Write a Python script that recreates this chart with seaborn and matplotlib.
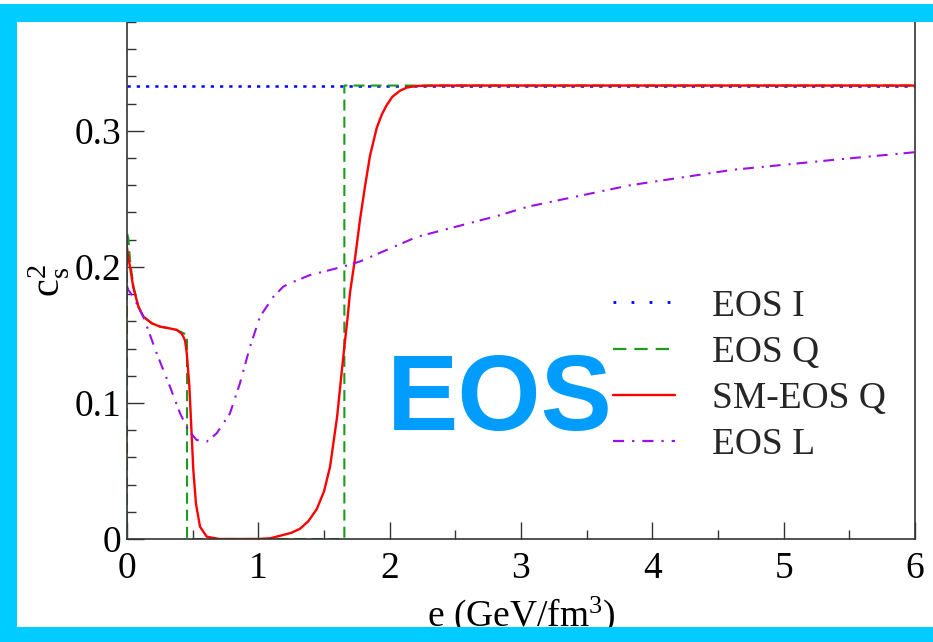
import matplotlib
matplotlib.use("Agg")
import matplotlib.pyplot as plt
import seaborn as sns
from matplotlib.lines import Line2D
from matplotlib.patches import Rectangle
from matplotlib.ticker import MultipleLocator, FuncFormatter

# ---- squared speed of sound c_s^2 versus energy density e (GeV/fm^3) ----
eos_i_e = [0.0, 6.0]
eos_i_cs2 = [0.3333, 0.3333]

eos_q_e = [0.0, 0.0, 0.01, 0.023, 0.048, 0.086, 0.124, 0.188, 0.251, 0.315,
           0.378, 0.457, 0.457, 1.655, 1.655, 6.0]
eos_q_cs2 = [0.0, 0.225, 0.221, 0.205, 0.186, 0.171, 0.1635, 0.1586, 0.1561, 0.155,
             0.1537, 0.150, 0.0, 0.0, 0.3333, 0.3333]

sm_eos_q_e = [0.0, 0.01, 0.023, 0.048, 0.086, 0.124, 0.188, 0.251, 0.315, 0.378,
              0.416, 0.442, 0.455, 0.475, 0.487, 0.505, 0.525, 0.556, 0.607, 0.70,
              1.00, 1.09, 1.19, 1.25, 1.317, 1.38, 1.445, 1.50, 1.546, 1.60,
              1.635, 1.657, 1.68, 1.698, 1.736, 1.774, 1.812, 1.85, 1.901, 1.94,
              1.978, 2.02, 2.079, 2.13, 2.206, 2.35, 6.0]
sm_eos_q_cs2 = [0.214, 0.207, 0.200, 0.185, 0.171, 0.1635, 0.1586, 0.1561, 0.155, 0.1537,
                0.151, 0.146, 0.1365, 0.112, 0.0875, 0.0507, 0.026, 0.009, 0.0017, 0.0,
                0.0, 0.0005, 0.003, 0.0045, 0.0075, 0.013, 0.022, 0.035, 0.053, 0.090,
                0.123, 0.143, 0.163, 0.181, 0.206, 0.2346, 0.259, 0.2816, 0.302, 0.312,
                0.319, 0.325, 0.3295, 0.3318, 0.333, 0.3333, 0.3333]

eos_l_e = [0.0, 0.01, 0.048, 0.124, 0.226, 0.327, 0.404, 0.467, 0.53, 0.607,
           0.683, 0.784, 0.86, 0.937, 1.013, 1.114, 1.19, 1.241, 1.393, 1.647,
           1.774, 2.206, 2.84, 3.054, 3.83, 4.607, 5.384, 6.0]
eos_l_cs2 = [0.186, 0.183, 0.178, 0.1635, 0.1365, 0.112, 0.0924, 0.080, 0.0728, 0.0716,
             0.0777, 0.0924, 0.1145, 0.1414, 0.1635, 0.178, 0.1855, 0.188, 0.194, 0.2002,
             0.204, 0.222, 0.238, 0.2443, 0.260, 0.2713, 0.2787, 0.2843]

legend_labels = ["EOS I", "EOS Q", "SM-EOS Q", "EOS L"]
x_ticks = [0, 1, 2, 3, 4, 5, 6]
y_ticks = [0.0, 0.1, 0.2, 0.3]

# ---- styles ----
BLUE, GREEN, RED, VIOLET = "#0000ff", "#1f9a1f", "#ff0000", "#9a10e6"
FRAME = "#00ccff"
TITLE_BLUE = "#009dff"
FS = 27

sns.set_theme(style="white")
plt.rcParams["font.family"] = ["Liberation Serif", "DejaVu Serif"]
plt.rcParams["mathtext.fontset"] = "custom"
plt.rcParams["mathtext.rm"] = "Liberation Serif"
plt.rcParams["mathtext.it"] = "Liberation Serif:italic"

W, H = 933, 642
fig = plt.figure(figsize=(W / 100, H / 100), dpi=100)
fig.patch.set_facecolor("white")
ax = fig.add_axes([127 / W, 1 - 539 / H, (915 - 127) / W, (539 - 22) / H])
ax.set_facecolor("white")

dotted = (0, (1.3, 2.4))
dashed = (0, (5.3, 2.9))
dashdot = (0, (5.2, 3.8, 1.0, 2.9))

sns.lineplot(x=eos_i_e, y=eos_i_cs2, ax=ax, sort=False, estimator=None,
             color=BLUE, lw=1.8, linestyle=dotted, legend=False)
sns.lineplot(x=eos_q_e, y=eos_q_cs2, ax=ax, sort=False, estimator=None,
             color=GREEN, lw=1.5, linestyle=dashed, legend=False)
sns.lineplot(x=sm_eos_q_e, y=sm_eos_q_cs2, ax=ax, sort=False, estimator=None,
             color=RED, lw=1.7, linestyle="-", legend=False)
sns.lineplot(x=eos_l_e, y=eos_l_cs2, ax=ax, sort=False, estimator=None,
             color=VIOLET, lw=1.5, linestyle=dashdot, legend=False)

ax.set_xlim(0, 6)
ax.set_ylim(0, 0.38)
ax.set_xticks(x_ticks)
ax.set_yticks(y_ticks)
ax.xaxis.set_minor_locator(MultipleLocator(0.5))
ax.yaxis.set_minor_locator(MultipleLocator(0.02))
ax.yaxis.set_major_formatter(FuncFormatter(lambda v, p: f"{v:g}"))
ax.xaxis.set_major_formatter(FuncFormatter(lambda v, p: f"{v:g}"))

ax.tick_params(axis="both", which="major", direction="in", length=12, width=1.0,
               color="#333333", labelsize=FS, labelcolor="black")
ax.tick_params(axis="both", which="minor", direction="in", length=6.5, width=1.0,
               color="#333333")
ax.tick_params(axis="x", which="both", top=False, bottom=True, pad=9)
ax.tick_params(axis="y", which="both", right=False, left=True, pad=4)

for side in ("left", "bottom", "right"):
    ax.spines[side].set_color("#333333")
    ax.spines[side].set_linewidth(1.2)
ax.spines["top"].set_visible(False)

ax.set_ylabel(r"$\mathrm{c_s^2}$", fontsize=29, labelpad=3, color="black")
ax.set_xlabel(r"e (GeV/fm$^{3}$)", fontsize=FS, labelpad=6, color="black")

handles = [
    Line2D([], [], color=BLUE, lw=2.0, linestyle=(0, (1.0, 5.5))),
    Line2D([], [], color=GREEN, lw=1.6, linestyle=(0, (6.0, 3.6))),
    Line2D([], [], color=RED, lw=1.7, linestyle="-"),
    Line2D([], [], color=VIOLET, lw=1.6, linestyle=(0, (5.0, 3.6, 1.0, 3.6))),
]
ax.legend(handles, legend_labels, loc="upper left",
          bbox_to_anchor=(613 / W, 1 - 289 / H), bbox_transform=fig.transFigure,
          frameon=False, fontsize=FS, handlelength=1.65, handletextpad=0.99,
          labelspacing=0.31, borderpad=0, borderaxespad=0)

fig.text(500 / W, 1 - 430 / H, "EOS", fontsize=77, fontweight="bold",
         family="Liberation Sans", color=TITLE_BLUE, ha="center", va="baseline",
         zorder=5)

# slide frame
for (x0, y0, w, h) in [(0, 4, W, 18), (0, 4, 16.5, H - 4), (0, 627, W, 15)]:
    fig.add_artist(Rectangle((x0 / W, 1 - (y0 + h) / H), w / W, h / H,
                             transform=fig.transFigure, facecolor=FRAME,
                             edgecolor="none", zorder=10))

fig.savefig("out.png", dpi=100, facecolor="white")
